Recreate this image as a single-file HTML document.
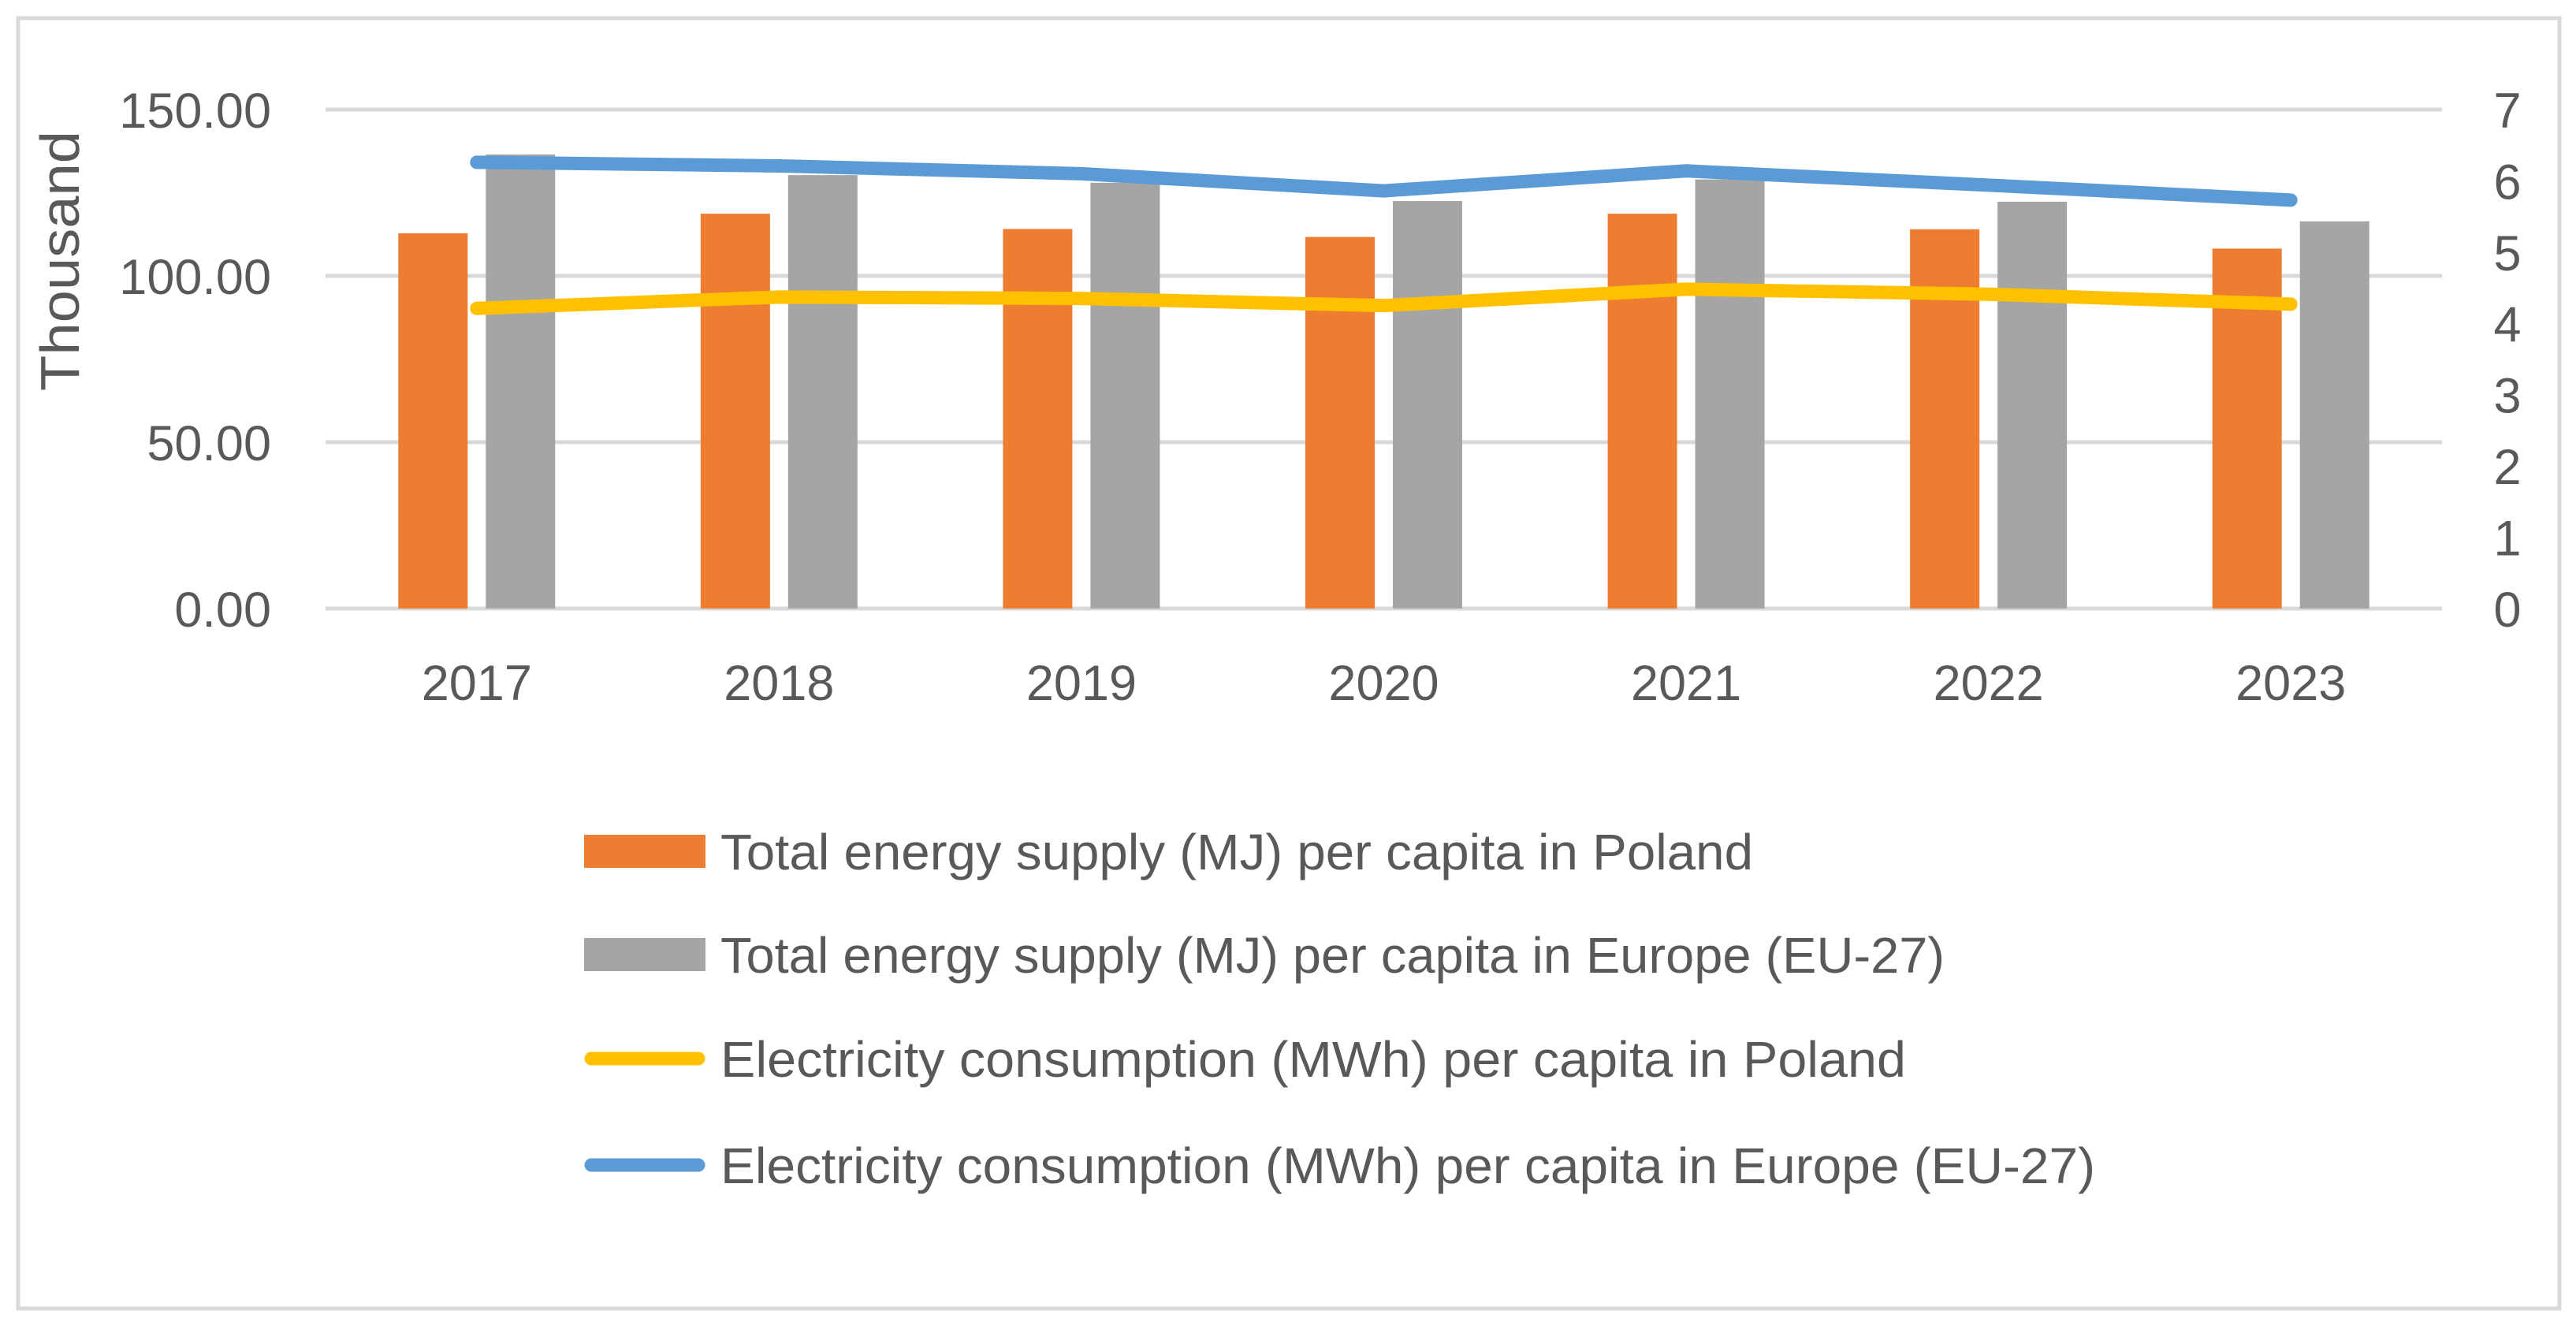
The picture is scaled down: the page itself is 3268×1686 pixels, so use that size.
<!DOCTYPE html>
<html><head><meta charset="utf-8"><style>
html,body{margin:0;padding:0;background:#fff;}
svg{display:block;font-family:"Liberation Sans",sans-serif;}
</style></head><body>
<svg id="chart" width="3268" height="1686" viewBox="0 0 3268 1686">
<rect x="23" y="23" width="3224" height="1637" fill="#fff" stroke="#d9d9d9" stroke-width="5"/>
<g id="grid"></g><g id="bars"></g><g id="lines"></g><g id="axes"></g><g id="legend"></g>
</svg>
<script>
const categories = ["2017","2018","2019","2020","2021","2022","2023"];
const polandSupply = [112.8,118.7,114.1,111.7,118.7,114.0,108.2];
const europeSupply = [136.5,130.3,128.0,122.5,129.0,122.3,116.4];
const polandElec = [4.21,4.37,4.35,4.25,4.48,4.41,4.27];
const europeElec = [6.26,6.21,6.10,5.86,6.14,5.94,5.73];
const leftTicks = [0,50,100,150];
const leftTickLabels = ["0.00","50.00","100.00","150.00"];
const rightTicks = [0,1,2,3,4,5,6,7];
const legendLabels = ["Total energy supply (MJ) per capita in Poland","Total energy supply (MJ) per capita in Europe (EU-27)","Electricity consumption (MWh) per capita in Poland","Electricity consumption (MWh) per capita in Europe (EU-27)"];

const NS="http://www.w3.org/2000/svg";
const X0=413,X1=3098,Y0=772,Y1=139;
const band=(X1-X0)/categories.length;
const xc=i=>X0+band*(i+0.5);
const yL=v=>Y0-(v/150)*(Y0-Y1);
const yR=v=>Y0-(v/7)*(Y0-Y1);
function mk(tag,attrs,parent,text){const e=document.createElementNS(NS,tag);for(const k in attrs)e.setAttribute(k,attrs[k]);if(text!==undefined)e.textContent=text;document.getElementById(parent).appendChild(e);return e;}
const TXT="#595959";

leftTicks.forEach((t,i)=>{
  const g=mk("line",{x1:X0,x2:X1,y1:yL(t),y2:yL(t),stroke:"#d9d9d9","stroke-width":5},"grid");
  
  
  const l=mk("text",{x:344,y:yL(t)+23,"text-anchor":"end","font-size":63,fill:TXT},"axes",leftTickLabels[i]);
  
  
});
rightTicks.forEach(t=>{
  const l=mk("text",{x:3181,y:yR(t)+23,"text-anchor":"middle","font-size":63,fill:TXT},"axes",String(t));
  
  
});
const yt=mk("text",{x:0,y:0,"text-anchor":"middle","font-size":70,fill:TXT,textLength:330,lengthAdjust:"spacingAndGlyphs",transform:"translate(100,331) rotate(-90)"},"axes","Thousand");



const BW=88,OFF=55.5;
categories.forEach((c,i)=>{
  const b1=mk("rect",{x:xc(i)-OFF-BW/2,y:yL(polandSupply[i]),width:BW,height:Y0-yL(polandSupply[i]),fill:"#ed7d31"},"bars");
  
  
  const b2=mk("rect",{x:xc(i)+OFF-BW/2,y:yL(europeSupply[i]),width:BW,height:Y0-yL(europeSupply[i]),fill:"#a5a5a5"},"bars");
  
  
  const xl=mk("text",{x:xc(i),y:888,"text-anchor":"middle","font-size":63,fill:TXT},"axes",c);
  
  
});
function line(vals,color,name){
  const d=vals.map((v,i)=>(i?"L":"M")+xc(i)+","+yR(v)).join(" ");
  const p=mk("path",{d:d,fill:"none",stroke:color,"stroke-width":17,"stroke-linecap":"round","stroke-linejoin":"round"},"lines");
  
  
}
line(polandElec,"#ffc000","line-poland-electricity");
line(europeElec,"#5b9bd5","line-europe-electricity");

const rowsY=[1080,1211,1343,1478];
const colors=["#ed7d31","#a5a5a5","#ffc000","#5b9bd5"];
const widths=[1310,1553,1504,1744];
legendLabels.forEach((lab,i)=>{
  let s;
  if(i<2) s=mk("rect",{x:741,y:rowsY[i]-21,width:154,height:42,fill:colors[i]},"legend");
  else s=mk("line",{x1:750,x2:886,y1:rowsY[i],y2:rowsY[i],stroke:colors[i],"stroke-width":17,"stroke-linecap":"round"},"legend");
  
  
  const t=mk("text",{x:914,y:rowsY[i]+23,"font-size":64,fill:TXT,textLength:widths[i],lengthAdjust:"spacingAndGlyphs"},"legend",lab);
  
  
});
</script>
</body></html>
